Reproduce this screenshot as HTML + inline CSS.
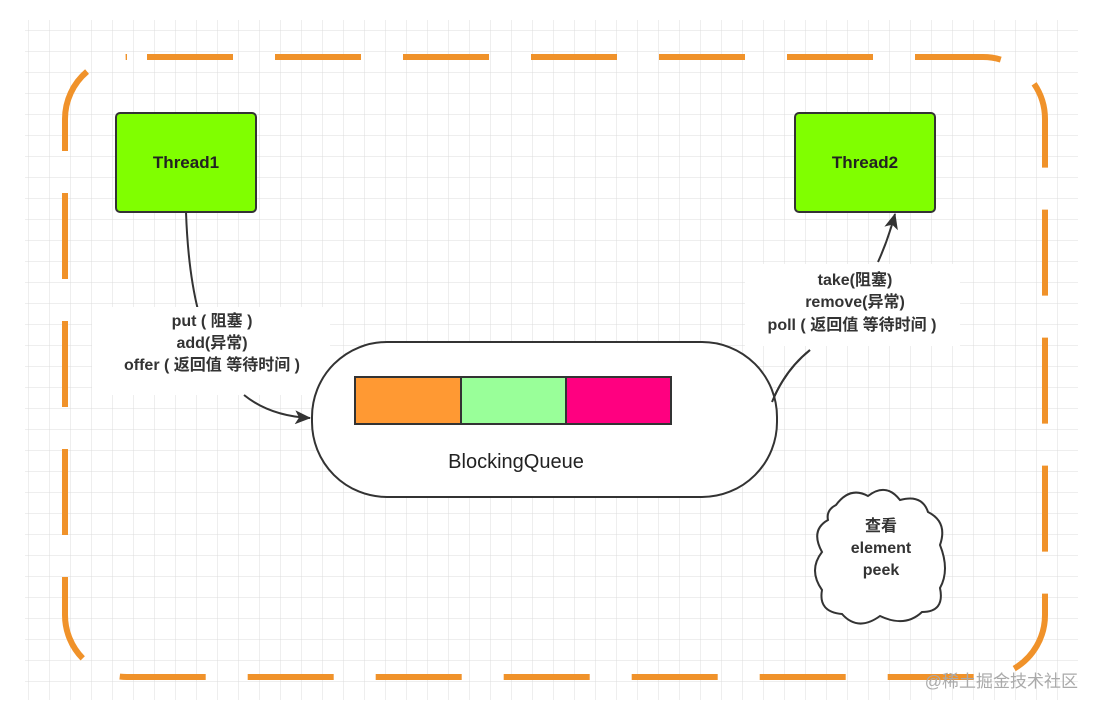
<!DOCTYPE html>
<html><head><meta charset="utf-8"><style>
html,body{margin:0;padding:0;background:#fff;}
body{width:1099px;height:711px;overflow:hidden;position:relative;font-family:"Liberation Sans","Noto Sans CJK SC",sans-serif;}
</style></head><body>
<svg width="1099" height="711" viewBox="0 0 1099 711" xmlns="http://www.w3.org/2000/svg" style="position:absolute;left:0;top:0">
<defs>
<pattern id="g" x="28" y="30" width="21" height="21" patternUnits="userSpaceOnUse">
<path d="M0 0H21M0 0V21" stroke="#dcdcdc" stroke-width="1" fill="none"/>
</pattern>
<marker id="a2" markerWidth="16" markerHeight="14" refX="15" refY="7" orient="auto" markerUnits="userSpaceOnUse"><path d="M0 0L16 7L0 14L4 7Z" fill="#333"/></marker>
</defs>
<rect x="25" y="20" width="1053" height="680" fill="url(#g)"/>
<rect x="65" y="57" width="980" height="620" rx="62" fill="none" stroke="#f0922a" stroke-width="6" stroke-dasharray="86 42" stroke-dashoffset="-20"/>
<rect x="116" y="113" width="140" height="99" rx="4" fill="#80ff00" stroke="#333" stroke-width="2"/>
<text x="186" y="168" text-anchor="middle" font-size="17" font-weight="bold" fill="#222">Thread1</text>
<rect x="795" y="113" width="140" height="99" rx="4" fill="#80ff00" stroke="#333" stroke-width="2"/>
<text x="865" y="168" text-anchor="middle" font-size="17" font-weight="bold" fill="#222">Thread2</text>
<path d="M186 212 Q188 270 198 310" fill="none" stroke="#333" stroke-width="2"/>
<rect x="92" y="307" width="238" height="88" fill="#fff"/>
<path d="M244 395 Q270 416 310 418" fill="none" stroke="#333" stroke-width="2" marker-end="url(#a2)"/>
<path d="M772 402 Q785 370 810 350" fill="none" stroke="#333" stroke-width="2"/>
<path d="M878 262 Q888 240 895 214" fill="none" stroke="#333" stroke-width="2" marker-end="url(#a2)"/>
<rect x="745" y="264" width="215" height="82" fill="#fff"/>
<rect x="312" y="342" width="465" height="155" rx="75" fill="#fff" stroke="#333" stroke-width="2"/>
<rect x="355" y="377" width="106" height="47" fill="#ff9933" stroke="#333" stroke-width="2"/>
<rect x="461" y="377" width="105" height="47" fill="#99ff99" stroke="#333" stroke-width="2"/>
<rect x="566" y="377" width="105" height="47" fill="#ff0080" stroke="#333" stroke-width="2"/>
<text x="516" y="468" text-anchor="middle" font-size="20" fill="#222">BlockingQueue</text>
<path d="M772 402 Q785 370 810 350" fill="none" stroke="#333" stroke-width="2"/>
<g font-size="16" font-weight="bold" fill="#333" text-anchor="middle">
<text x="212" y="326">put ( 阻塞 )</text>
<text x="212" y="348">add(异常)</text>
<text x="212" y="370">offer ( 返回值 等待时间 )</text>
</g>
<g font-size="16" font-weight="bold" fill="#333" text-anchor="middle">
<text x="855" y="285">take(阻塞)</text>
<text x="855" y="307">remove(异常)</text>
<text x="852" y="330">poll ( 返回值 等待时间 )</text>
</g>
<path d="M836 505 Q850 486 868 496 Q886 482 900 500 Q922 494 928 512 Q948 522 940 545 Q950 570 940 588 Q945 612 922 612 Q905 628 880 616 Q858 632 842 614 Q818 612 822 590 Q808 570 822 552 Q810 530 828 520 Q826 510 836 505Z" fill="#fff" stroke="#333" stroke-width="2"/>
<g font-size="16" font-weight="bold" fill="#333" text-anchor="middle">
<text x="881" y="531">查看</text>
<text x="881" y="553">element</text>
<text x="881" y="575">peek</text>
</g>
<text x="1078" y="687" text-anchor="end" font-size="17" fill="#aaa">@稀土掘金技术社区</text>
</svg>
</body></html>
